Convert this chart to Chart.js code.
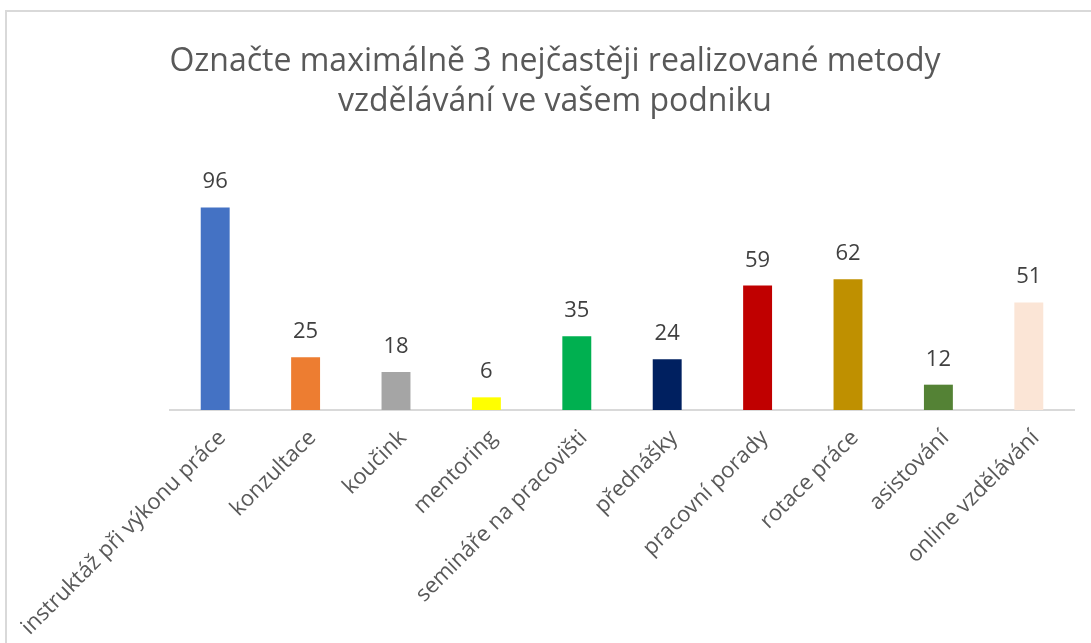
<!DOCTYPE html>
<html>
<head>
<meta charset="utf-8">
<script src="https://cdn.jsdelivr.net/npm/chart.js@4.4.0/dist/chart.umd.min.js"></script>
<style>
    body { margin: 0; background: #fff; }
    #wrap { position: relative; width: 1091px; height: 643px; }
    #frame {
        position: absolute; left: 5px; top: 10px; right: -10px; bottom: -10px;
        border-left: 2px solid #d9d9d9; border-top: 2px solid #d9d9d9;
    }
    canvas { position: absolute; left: 0; top: 0; }
</style>
</head>
<body>
<div id="wrap">
    <div id="frame"></div>
    <canvas id="chart" width="1091" height="643"></canvas>
</div>
<script>
const titleLines = ['Označte maximálně 3 nejčastěji realizované metody', 'vzdělávání ve vašem podniku'];
const methods = [
    'instruktáž při výkonu práce', 'konzultace', 'koučink', 'mentoring',
    'semináře na pracovišti', 'přednášky', 'pracovní porady', 'rotace práce',
    'asistování', 'online vzdělávání'
];
const counts = [96, 25, 18, 6, 35, 24, 59, 62, 12, 51];
const barColors = [
    '#4472C4', '#ED7D31', '#A5A5A5', '#FFFF00', '#00B050',
    '#002060', '#C00000', '#BF9000', '#548235', '#FBE5D6'
];

// values above the bars
const valueLabels = {
    id: 'valueLabels',
    afterDatasetsDraw(chart) {
        const ctx = chart.ctx;
        ctx.save();
        ctx.font = '22px "Open Sans"';
        ctx.fillStyle = '#404040';
        ctx.textAlign = 'center';
        ctx.textBaseline = 'alphabetic';
        chart.getDatasetMeta(0).data.forEach((bar, i) => {
            ctx.fillText(counts[i], bar.x, bar.y - 19);
        });
        ctx.restore();
    }
};

new Chart(document.getElementById('chart'), {
    type: 'bar',
    data: {
        labels: methods,
        datasets: [{
            data: counts,
            backgroundColor: barColors,
            barPercentage: 0.32,
            categoryPercentage: 1
        }]
    },
    options: {
        responsive: false,
        animation: false,
        layout: { padding: { left: 36, right: 17, top: 0, bottom: 0 } },
        scales: {
            x: {
                grid: { display: false, drawTicks: false },
                border: { display: true, color: '#d9d9d9', width: 2 },
                ticks: {
                    color: '#595959',
                    font: { family: 'Open Sans', size: 22 },
                    minRotation: 45,
                    maxRotation: 45,
                    autoSkip: false,
                    padding: 15,
                    labelOffset: 7
                },
                afterFit: (scale) => {
                    scale.height = 233;
                    scale.paddingLeft = 0;
                    scale.paddingRight = 0;
                }
            },
            y: {
                min: 0,
                max: 100,
                grid: { display: false },
                border: { display: false },
                ticks: { display: false },
                afterFit: (scale) => { scale.width = 134; }
            }
        },
        plugins: {
            legend: { display: false },
            tooltip: { enabled: false },
            title: {
                display: true,
                text: titleLines,
                color: '#595959',
                font: { family: 'Open Sans', size: 32, weight: 'normal', lineHeight: 1.25 },
                padding: { top: 42, bottom: 77 }
            }
        }
    },
    plugins: [valueLabels]
});
</script>
</body>
</html>
